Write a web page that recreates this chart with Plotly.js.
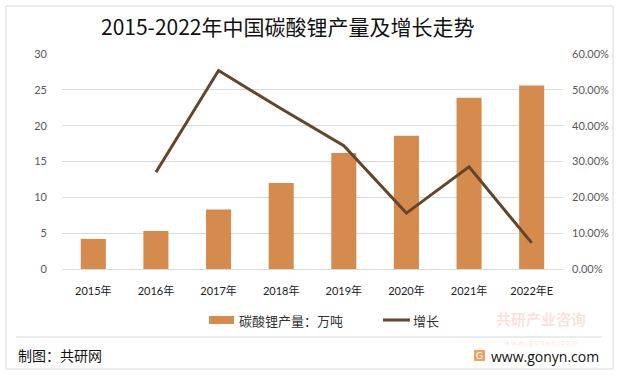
<!DOCTYPE html>
<html>
<head>
<meta charset="utf-8">
<script src="https://cdn.plot.ly/plotly-3.0.1.min.js"></script>
<style>html,body{margin:0;padding:0;background:#fff;}#chart{width:622px;height:377px;}</style>
</head>
<body>
<div id="chart"></div>
<script>
const years = ["2015年","2016年","2017年","2018年","2019年","2020年","2021年","2022年E"];
const output = [4.2, 5.3, 8.3, 12.0, 16.2, 18.6, 23.9, 25.6];
const growth = [null, 0.270, 0.554, 0.447, 0.344, 0.156, 0.285, 0.073];
const leftTicks = [0, 5, 10, 15, 20, 25, 30];
const rightTicks = [0, 0.1, 0.2, 0.3, 0.4, 0.5, 0.6];
const seriesNames = ['碳酸锂产量：万吨', '增长'];

const FONT = "Lato, 'Noto Sans CJK SC', sans-serif";
const CJK = "'Noto Sans CJK SC', sans-serif";
const BAR = '#D48B4D', LINE = '#654529';

const traces = [
  {type: 'bar', name: seriesNames[0], x: years, y: output,
   marker: {color: BAR}, hoverinfo: 'skip'},
  {type: 'scatter', mode: 'lines', name: seriesNames[1], x: years, y: growth, yaxis: 'y2',
   line: {color: LINE, width: 3}, connectgaps: false, hoverinfo: 'skip'}
];

// pixel helpers relative to plot area (x: 62..563, y: 54..269)
const px = v => (v - 62) / 501;
const py = v => (269 - v) / 215;

const layout = {
  width: 622, height: 377,
  margin: {l: 62, r: 59, t: 54, b: 108},
  paper_bgcolor: '#ffffff', plot_bgcolor: '#ffffff',
  font: {family: FONT, size: 11, color: '#595959'},
  title: {text: '2015-2022年中国碳酸锂产量及增长走势', font: {family: CJK, size: 21, color: '#111'},
          xref: 'container', yref: 'container', x: 101/622, xanchor: 'left', y: 1 - 28/377, yanchor: 'middle'},
  bargap: 0.6,
  showlegend: false,
  xaxis: {type: 'category', showgrid: false, zeroline: false, showline: false, ticks: '',
          tickfont: {family: FONT, size: 11, color: '#222'}, ticklabelstandoff: 14, fixedrange: true},
  yaxis: {range: [0, 30], tickvals: leftTicks, ticktext: leftTicks.map(String), showgrid: true, gridcolor: '#d9d9d9', gridwidth: 1,
          zeroline: true, zerolinecolor: '#d9d9d9', showline: false, ticks: '', ticklabelstandoff: 14,
          tickfont: {family: FONT, size: 11, color: '#595959'}, fixedrange: true},
  yaxis2: {range: [0, 0.6], tickvals: rightTicks, ticktext: rightTicks.map(v => (v*100).toFixed(2) + '%'),
           overlaying: 'y', side: 'right', showgrid: false, zeroline: false, showline: false, ticks: '',
           ticklabelstandoff: 8, tickfont: {family: FONT, size: 11, color: '#595959'}, fixedrange: true},
  shapes: [
    {type: 'rect', xref: 'paper', yref: 'paper', x0: px(6), x1: px(613), y0: py(369), y1: py(6),
     line: {color: '#d9d9d9', width: 1}, fillcolor: 'rgba(0,0,0,0)', layer: 'below'},
    {type: 'line', xref: 'paper', yref: 'paper', x0: px(16), x1: px(602), y0: py(337), y1: py(337),
     line: {color: '#d9d9d9', width: 1}},
    {type: 'rect', xref: 'paper', yref: 'paper', x0: px(474), x1: px(485), y0: py(361), y1: py(350),
     line: {width: 0}, fillcolor: '#F3A15E'},
    // legend keys
    {type: 'rect', xref: 'paper', yref: 'paper', x0: px(209), x1: px(234), y0: py(324), y1: py(316),
     line: {width: 0}, fillcolor: BAR},
    {type: 'line', xref: 'paper', yref: 'paper', x0: px(383), x1: px(410), y0: py(320), y1: py(320),
     line: {color: LINE, width: 3}}
  ],
  annotations: [
    {text: seriesNames[0], xref: 'paper', yref: 'paper', x: px(237), y: py(320), xanchor: 'left', yanchor: 'middle',
     showarrow: false, font: {family: CJK, size: 13, color: '#333'}},
    {text: seriesNames[1], xref: 'paper', yref: 'paper', x: px(411), y: py(320), xanchor: 'left', yanchor: 'middle',
     showarrow: false, font: {family: CJK, size: 13, color: '#333'}},
    {text: '制图：共研网', xref: 'paper', yref: 'paper', x: px(16), y: py(355), xanchor: 'left', yanchor: 'middle',
     showarrow: false, font: {family: CJK, size: 14, color: '#111'}},
    {text: 'www.gonyn.com', xref: 'paper', yref: 'paper', x: px(490), y: py(356), xanchor: 'left', yanchor: 'middle',
     showarrow: false, borderpad: 0, font: {family: "'Open Sans', sans-serif", size: 14, color: '#111'}},
    {text: '<b>共研产业咨询</b><br><span style="font-size:7px">w w w . g o n y n . c o m</span>',
     xref: 'paper', yref: 'paper', x: px(541), y: py(327), xanchor: 'center', yanchor: 'middle', align: 'center',
     showarrow: false, borderpad: 0, font: {family: CJK, size: 15, color: 'rgba(240,140,100,0.25)'}},
    {text: 'G', xref: 'paper', yref: 'paper', x: px(479.5), y: py(355.5), xanchor: 'center', yanchor: 'middle',
     showarrow: false, font: {family: FONT, size: 9, color: '#ffffff'}}
  ]
};

Plotly.newPlot('chart', traces, layout, {displayModeBar: false, staticPlot: true});
</script>
</body>
</html>
